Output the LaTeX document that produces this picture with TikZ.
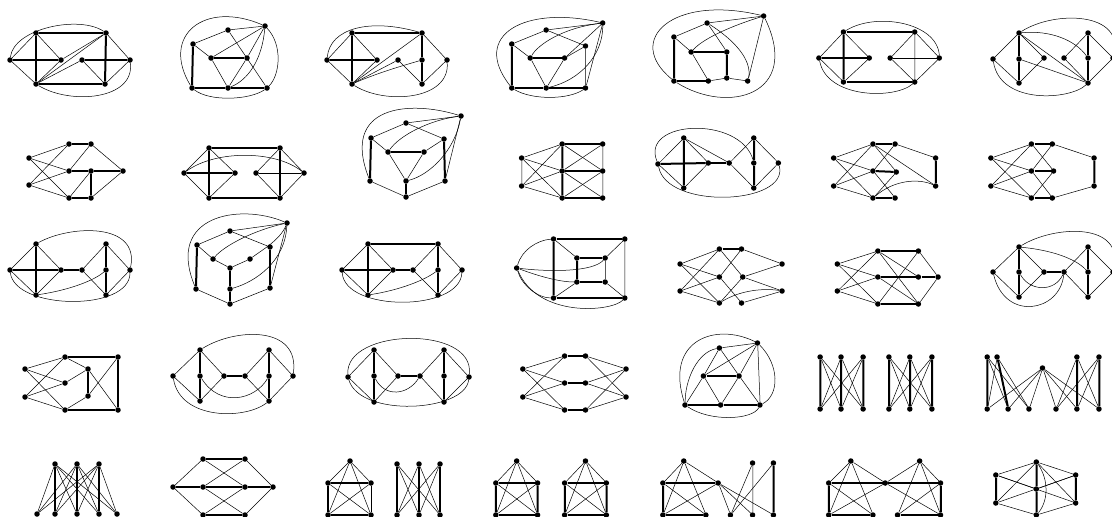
\documentclass[tikz,border=0pt]{standalone}
\newcommand\GV[2]{\foreach \n/\x/\y in {#2} \node[v] (#1\n) at (\x,\y) {};}
\newcommand\GT[2]{\foreach \a/\b in {#2} \draw[tk] (#1\a)--(#1\b);}
\newcommand\GE[2]{\foreach \a/\b in {#2} \draw[e] (#1\a)--(#1\b);}
\begin{document}
\begin{tikzpicture}[x=1pt,y=-1pt,
  v/.style={circle,fill=black,inner sep=0pt,minimum size=5.5pt},
  e/.style={line width=0.5pt},
  tk/.style={line width=2pt},
  wide/.style={xshift=-107.4pt,xscale=1.2285}]
\useasboundingbox (0,0) rectangle (1112,517);
\clip (0,0) rectangle (1112,517);
% G1
\GV{p1}{A/36/33,B/106/33,C/10/60,D/61/60,E/82/60,F/130/60,G/36/84,H/105/84}
\GT{p1}{A/B,A/G,B/H,G/H,C/D,E/F}
\GE{p1}{C/A,C/G,A/D,D/G,D/B,G/B,G/E,E/H,B/F,F/H}
\draw[e] (p1C) .. controls (14,28) and (80,15) .. (p1B);
\draw[e] (p1G) .. controls (70,105) and (135,100) .. (p1F);
% G2
\GV{p2}{a/228/30,b/265/26,c/193/44,d/211/58,e/247/58,f/192/88,g/228/88,h/267/88}
\GT{p2}{c/f,f/g,g/h,d/e}
\GE{p2}{c/a,a/b,c/d,a/h,b/d,b/e,d/g,e/g}
\draw[e] (p2b) .. controls (262,60) and (248,80) .. (p2g);
\draw[e] (p2b) .. controls (283,45) and (280,75) .. (p2h);
\draw[e] (p2b) .. controls (205,0) and (160,35) .. (p2f);
\draw[e] (p2f) .. controls (210,102) and (250,100) .. (p2h);
% G3
\GV{p3}{A/352/33,B/422/33,C/327/60,D/377/60,E/398/60,F/422/60,G/447/60,H/352/84,I/422/84}
\GT{p3}{A/B,A/H,B/F,F/I,C/D}
\GE{p3}{C/A,C/H,A/D,D/H,H/B,H/E,E/I,B/G,G/I}
\draw[e] (p3H) .. controls (380,72) and (405,65) .. (p3F);
\draw[e] (p3C) .. controls (330,28) and (370,18) .. (p3B);
\draw[e] (p3H) .. controls (385,105) and (450,100) .. (p3G);
\begin{scope}[wide]
% G4
\GV{p4}{t/578/23,a/532/30,c/504/44,r/564/46,d/519/58,e/547/58,f/504/88,g/532/88,h/564/88}
\GT{p4}{d/e,f/g,g/h,c/f}
\GE{p4}{r/h,c/a,a/r,a/t,c/d,d/g,e/g,e/r,t/e,t/h}
\draw[e] (p4t) .. controls (545,28) and (525,45) .. (p4d);
\draw[e] (p4t) .. controls (578,55) and (560,80) .. (p4g);
\draw[e] (p4t) .. controls (515,5) and (470,35) .. (p4f);
\draw[e] (p4f) .. controls (520,100) and (550,100) .. (p4h);
% G5
\GV{p5}{t/709/16,a/663/23,c/636/37,d/650/52,e/679/52,k/679/78,f/636/81,g/664/81,h/696/81}
\GT{p5}{c/f,f/g,d/e,e/k}
\GE{p5}{c/a,a/t,c/d,d/g,g/k,k/h,a/e,t/h}
\draw[e] (p5t) .. controls (685,25) and (660,38) .. (p5d);
\draw[e] (p5a) .. controls (685,40) and (700,60) .. (p5h);
\draw[e] (p5t) .. controls (635,-6) and (595,40) .. (p5f);
\draw[e] (p5f) .. controls (680,115) and (740,95) .. (p5t);
% G6
\GV{p6}{A/774/32,B/832/32,C/754/58,D/795/58,E/812/58,F/852/58,G/774/82,H/832/82}
\GT{p6}{A/B,A/G,G/H,C/D}
\GE{p6}{B/H,E/F,C/A,C/G,A/D,D/G,B/E,E/H,B/F,F/H}
\draw[e] (p6A) .. controls (800,12) and (850,22) .. (p6F);
\draw[e] (p6C) .. controls (760,98) and (815,100) .. (p6H);
\end{scope}
% G7
\GV{p7}{A/1019/33,B/1088/33,C/993/59,D/1019/59,E/1044/58,F/1064/58,G/1088/58,H/1113/58,I/1019/83,J/1088/83}
\GT{p7}{A/D,D/I,B/G,G/J}
\GE{p7}{C/A,C/I,A/E,E/I,D/J,A/J,F/B,F/J,B/H,H/J}
\draw[e] (p7A) .. controls (1050,30) and (1075,40) .. (p7G);
\draw[e] (p7A) .. controls (1055,10) and (1125,12) .. (p7H);
\draw[e] (p7C) .. controls (1000,105) and (1070,100) .. (p7J);
% G8
\GV{p8}{a/69/144,b/91/144,c/29/158,d/29/185,e/69/171,f/91/171,g/123/171,h/69/198,i/91/198}
\GT{p8}{a/b,e/f,f/g,f/i,h/i}
\GE{p8}{c/a,c/e,c/h,d/a,d/e,d/h,b/e,b/g,g/i,f/h}
% G9
\GV{p9}{A/209/148,B/280/148,C/184/173,D/235/173,E/256/173,F/304/173,G/209/198,H/280/198}
\GT{p9}{A/B,A/G,B/H,G/H,C/D}
\GE{p9}{E/F,C/A,C/G,A/D,D/G,B/E,E/H,B/F,F/H}
\draw[e] (p9C) .. controls (215,150) and (275,150) .. (p9F);
% G10
\GV{p10}{t/461/116,a/406/123,c/371/138,r/444/139,d/388/152,e/424/152,f/370/181,g/406/181,h/445/181,i/406/197}
\GT{p10}{c/f,d/e,g/i,r/h}
\GE{p10}{c/a,a/t,a/r,c/d,d/g,e/g,e/r,f/i,i/h,t/h}
\draw[e] (p10t) .. controls (430,120) and (400,135) .. (p10d);
\draw[e] (p10t) .. controls (455,150) and (430,175) .. (p10g);
\draw[e] (p10t) .. controls (410,100) and (340,105) .. (p10f);
\begin{scope}[wide]
% G11
\GV{p11}{a/545/144,b/578/144,c/512/158,d/512/186,e/545/171,f/578/171,g/545/198,h/578/198}
\GT{p11}{a/b,a/e,e/g,e/f,g/h}
\GE{p11}{c/d,b/f,f/h,c/a,c/e,c/g,d/a,d/e,d/g,a/f,b/e,e/h,f/g}
% G12
\GV{p12}{a/644/138,c/623/164,d/664/163,e/681/163,g/644/188,r/701/138,m/701/163,n/701/188,s/721/163}
\GT{p12}{a/g,c/d,d/e,r/m,m/n}
\GE{p12}{a/c,c/g,a/d,d/g,a/e,e/r,e/n,r/s,s/n}
\draw[e] (p12c) .. controls (608,120) and (690,115) .. (p12m);
\draw[e] (p12c) .. controls (630,210) and (730,205) .. (p12s);
% G13
\GV{p13}{a/798/144,b/816/144,c/766/158,d/766/186,e/798/171,f/817/172,g/798/198,h/816/198,r/849/158,s/849/186}
\GT{p13}{a/b,e/f,g/h,r/s}
\GE{p13}{c/a,c/e,c/g,d/a,d/e,d/g,b/e,a/f,b/r,a/s,e/h,f/g}
\draw[e] (p13g) .. controls (815,180) and (835,178) .. (p13s);
% G14
\GV{p14}{a/927/144,b/944/144,c/894/158,d/894/186,e/927/171,f/945/171,g/927/198,h/944/198,r/978/158,s/978/186}
\GT{p14}{a/b,e/f,g/h,r/s}
\GE{p14}{c/a,c/e,c/g,d/a,d/e,d/g,a/f,b/e,e/h,f/g,b/r,h/s}
\end{scope}
% G15
\GV{p15}{A/36/244,C/10/270,D/61/270,E/82/270,G/36/295,R/106/244,M/106/270,N/106/295,S/130/270}
\GT{p15}{A/G,C/D,D/E,R/M,M/N}
\GE{p15}{C/A,C/G,A/D,D/G,E/R,E/N,R/S,S/N}
\draw[e] (p15G) .. controls (70,290) and (95,280) .. (p15M);
\draw[e] (p15A) .. controls (70,225) and (140,222) .. (p15S);
\draw[e] (p15C) .. controls (15,310) and (130,312) .. (p15S);
% G16
\GV{p16}{t/287/223,a/230/231,c/197/245,r/270/247,d/213/259,e/250/259,m/230/268,n/230/289,f/196/289,h/270/288,i/230/304}
\GT{p16}{c/f,m/n,n/i,r/h}
\GE{p16}{c/a,a/r,c/d,d/m,m/e,f/i,i/h,a/t,t/h}
\draw[e] (p16t) .. controls (255,230) and (225,245) .. (p16d);
\draw[e] (p16t) .. controls (280,240) and (262,250) .. (p16e);
\draw[e] (p16t) .. controls (285,262) and (255,282) .. (p16n);
\draw[e] (p16t) .. controls (240,203) and (165,215) .. (p16f);
% G17
\GV{p17}{A/368/244,B/438/244,C/342/270,D/393/270,E/413/270,F/438/270,G/368/295,H/438/295,S/462/270}
\GT{p17}{A/B,A/G,B/F,F/H,C/D,D/E}
\GE{p17}{C/A,C/G,A/D,D/G,B/E,E/H,B/S,S/H}
\draw[e] (p17G) .. controls (400,290) and (425,280) .. (p17F);
\draw[e] (p17C) .. controls (345,312) and (460,312) .. (p17S);
\begin{scope}[wide]
% G18
\GV{p18}{A/538/239,B/596/239,C/508/268,a/557/258,b/580/258,c/557/282,d/580/282,G/538/298,H/596/298}
\GT{p18}{A/B,A/G,G/H,a/b,a/c,c/d}
\GE{p18}{B/H,b/d,A/a,B/b,G/c,H/d}
\draw[e] (p18C) .. controls (512,250) and (525,240) .. (p18A);
\draw[e] (p18C) .. controls (512,285) and (525,298) .. (p18G);
\draw[e] (p18C) .. controls (535,272) and (570,272) .. (p18b);
\draw[e] (p18C) .. controls (530,278) and (545,282) .. (p18c);
\draw[e] (p18C) .. controls (525,318) and (585,312) .. (p18H);
% G19
\GV{p19}{a/673/249,b/691/249,c/641/264,d/641/291,e/673/277,f/692/277,g/673/303,h/691/303,r/724/264,s/724/291}
\GT{p19}{a/b}
\GE{p19}{c/a,c/e,c/g,d/a,d/e,d/g,b/e,a/f,e/h,f/g,b/r,f/r,f/s,h/s}
\draw[e] (p19g) .. controls (690,290) and (710,288) .. (p19s);
% G20
\GV{p20}{a/802/251,b/835/251,c/769/264,d/769/291,e/802/277,f/835/277,s/851/277,g/802/304,h/835/304}
\GT{p20}{a/b,e/f,f/s,g/h}
\GE{p20}{c/a,c/e,c/g,d/a,d/e,d/g,a/h,b/g,a/f,e/h,b/s,h/s}
\end{scope}
% G21
\GV{p21}{A/1019/247,C/993/272,D/1019/272,E/1044/272,F/1064/272,I/1019/297,B/1088/247,G/1088/272,J/1088/297,H/1113/272}
\GT{p21}{A/D,D/I,E/F,B/G,G/J}
\GE{p21}{C/A,C/I,A/E,E/I,F/B,F/J,B/H,H/J}
\draw[e] (p21A) .. controls (1050,250) and (1075,258) .. (p21G);
\draw[e] (p21D) .. controls (1030,292) and (1055,292) .. (p21F);
\draw[e] (p21A) .. controls (1055,225) and (1125,222) .. (p21H);
\draw[e] (p21C) .. controls (1005,322) and (1060,312) .. (p21F);
% G22
\GV{p22}{a/65/357,c/25/369,d/25/397,e/65/383,r/88/369,s/88/396,g/65/410,B/118/357,H/118/410}
\GT{p22}{a/B,B/H,g/H,r/s}
\GE{p22}{c/a,c/e,c/g,d/a,d/e,d/g,a/r,e/r,s/g,r/H,s/B}
% G23
\GV{p23}{C/173/376,A/200/350,D/200/376,G/200/401,E/224/376,F/245/376,B/269/350,M/269/376,J/269/401,S/293/376}
\GT{p23}{A/D,D/G,E/F,B/M,M/J}
\GE{p23}{C/A,C/G,A/E,E/G,F/B,F/J,B/S,S/J}
\draw[e] (p23D) .. controls (220,408) and (255,400) .. (p23M);
\draw[e] (p23A) .. controls (235,328) and (300,325) .. (p23S);
\draw[e] (p23C) .. controls (180,420) and (245,420) .. (p23J);
% G24
\GV{p24}{C/348/377,A/374/350,D/374/376,G/374/402,E/398/376,F/420/376,B/444/350,M/444/376,J/444/402,S/469/377}
\GT{p24}{A/D,D/G,E/F,B/M,M/J}
\GE{p24}{C/A,C/G,A/E,E/G,F/B,F/J,B/S,S/J}
\draw[e] (p24D) .. controls (385,398) and (408,395) .. (p24F);
\draw[e] (p24C) .. controls (345,328) and (475,325) .. (p24S);
\draw[e] (p24C) .. controls (360,418) and (465,412) .. (p24S);
\begin{scope}[wide]
% G25
\GV{p25}{a/547/356,b/564/356,c/513/369,d/513/397,e/547/383,f/564/383,g/547/410,h/564/410,r/597/369,s/597/397}
\GT{p25}{a/b,e/f,g/h}
\GE{p25}{c/a,c/e,c/g,d/a,d/e,d/g,b/r,f/r,h/r,b/s,f/s,h/s}
% G26
\GV{p26}{t/704/343,a/673/348,c/660/376,d/689/376,f/645/405,g/674/405,h/706/405}
\GT{p26}{c/d,f/g,g/h}
\GE{p26}{a/t,a/c,a/d,c/f,c/g,d/g,d/h,c/t,d/t,t/h}
\draw[e] (p26a) .. controls (655,352) and (645,380) .. (p26f);
\draw[e] (p26t) .. controls (722,365) and (722,395) .. (p26h);
\draw[e] (p26t) .. controls (670,322) and (628,340) .. (p26f);
\draw[e] (p26f) .. controls (665,422) and (700,420) .. (p26h);
% G27, G28
\GV{p27}{a/755/357,b/772/357,c/790/357,x/755/409,y/772/409,z/790/409}
\GT{p27}{a/x,b/y,c/z}
\GE{p27}{a/y,a/z,b/x,b/z,c/x,c/y}
\GV{p28}{a/811/357,b/828/357,c/846/357,x/811/409,y/828/409,z/846/409}
\GT{p28}{a/x,b/y,c/z}
\GE{p28}{a/y,a/z,b/x,b/z,c/x,c/y}
% G29
\GV{p29}{a/891/357,b/899/357,m/936/368,c/964/357,d/982/357,u/891/409,v/908/409,w/925/409,x/947/409,y/964/409,z/982/409}
\GT{p29}{a/u,b/v,c/y,d/z}
\GE{p29}{a/v,a/w,b/u,b/w,m/u,m/v,m/w,m/x,m/y,m/z,c/x,c/z,d/x,d/y}
\end{scope}
% G30
\GV{p30}{a/55/464,b/77/464,c/99/464,u/37/514,v/55/514,w/77/514,x/99/514,y/117/514}
\GT{p30}{a/v,b/w,c/x}
\GE{p30}{a/u,a/w,a/x,a/y,b/u,b/v,b/x,b/y,c/u,c/v,c/w,c/y}
% G31
\GV{p31}{a/203/459,b/245/459,c/173/487,e/203/487,f/245/487,s/273/487,g/203/515,h/245/515}
\GT{p31}{a/b,c/e,e/f,f/s,g/h}
\GE{p31}{c/a,c/g,a/f,b/e,e/h,f/g,b/s,h/s}
% G32
\GV{p32}{t/350/461,l/328/483,r/371/483,u/328/515,v/371/515}
\GT{p32}{l/r,l/u,u/v}
\GE{p32}{r/v,t/l,t/r,t/u,t/v,l/v,r/u}
% G33
\GV{p33}{a/397/464,b/419/464,c/440/464,x/397/515,y/419/515,z/440/515}
\GT{p33}{a/x,b/y,c/z}
\GE{p33}{a/y,a/z,b/x,b/z,c/x,c/y}
\begin{scope}[wide]
% G34, G35
\GV{p34}{t/508/461,l/491/483,r/525/483,u/491/515,v/525/515}
\GT{p34}{l/r,l/u,r/v,u/v}
\GE{p34}{t/l,t/r,t/u,t/v,l/v,r/u}
\GV{p35}{t/564/461,l/547/483,r/581/483,u/547/515,v/581/515}
\GT{p35}{l/r,l/u,r/v,u/v}
\GE{p35}{t/l,t/r,t/u,t/v,l/v,r/u}
% G36
\GV{p36}{t/644/461,l/627/483,r/672/483,u/627/515,v/662/515,p/700/463,q/717/463,x/682/515,y/700/515,z/717/515}
\GT{p36}{l/r,l/u,u/v,q/z}
\GE{p36}{p/y,t/l,t/r,t/u,t/v,l/v,r/u,r/x,r/y,r/z,p/x,q/x}
% G37
\GV{p37}{s/780/461,t/836/461,l/762/483,m/808/483,r/853/483,u/762/515,v/798/515,w/818/515,x/853/515}
\GT{p37}{l/m,m/r,l/u,r/x,u/v,w/x}
\GE{p37}{s/l,s/m,s/u,s/v,l/v,m/u,t/m,t/r,t/w,t/x,m/x,r/w}
% G38
\GV{p38}{t/931/462,l/898/475,r/963/475,c/931/489,m/898/503,n/963/503,b/931/515}
\GT{p38}{l/m,r/n,t/c,c/b}
\GE{p38}{t/l,t/r,l/n,m/r,l/c,r/c,m/b,n/b,t/m,t/n}
\draw[e] (p38t) .. controls (941,480) and (941,500) .. (p38b);
\end{scope}
\end{tikzpicture}
\end{document}
